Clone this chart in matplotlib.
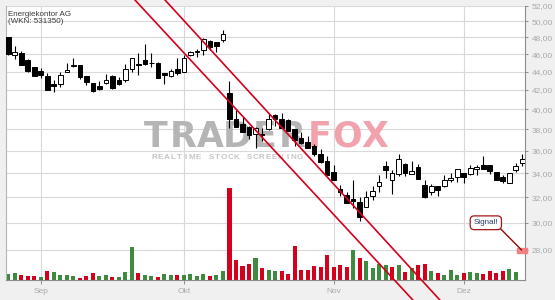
import numpy as np
import matplotlib
matplotlib.use("Agg")
import matplotlib.pyplot as plt
from matplotlib.transforms import blended_transform_factory

# daily candles (late Aug .. mid Dec)
opens = [48.0, 45.9, 46.15, 45.3, 44.5, 44.1, 43.5, 42.6, 42.6, 44.0,
         44.65, 44.7, 43.5, 42.75, 42.4, 42.8, 43.55, 43.05, 43.05, 44.3,
         44.85, 45.3, 45.0, 45.0, 43.85, 43.55, 44.3, 43.95, 45.9, 46.25,
         46.5, 47.5, 47.4, 47.7, 41.7, 39.0, 38.55, 38.25, 37.55, 37.55,
         38.0, 39.45, 39.05, 38.9, 38.0, 37.2, 36.8, 36.4, 35.7, 35.05,
         34.15, 32.65, 32.15, 31.85, 31.65, 31.25, 32.1, 32.9, 34.6, 33.4,
         33.95, 34.8, 33.97, 34.55, 33.05, 32.45, 32.9, 32.95, 33.4, 33.65,
         34.0, 33.97, 34.36, 34.72, 34.72, 34.1, 33.65, 33.2, 34.27, 34.87]
highs = [48.05, 47.0, 46.35, 45.4, 44.55, 44.4, 43.85, 43.05, 44.0, 45.0,
         45.6, 44.75, 43.5, 42.8, 42.95, 43.7, 43.6, 43.4, 44.9, 45.55,
         46.1, 47.2, 46.1, 45.05, 43.9, 44.3, 45.5, 45.95, 46.35, 46.6,
         47.9, 47.7, 47.45, 48.95, 42.95, 39.95, 39.25, 38.3, 38.2, 38.1,
         39.5, 39.55, 39.65, 39.0, 38.05, 37.75, 37.35, 36.6, 36.2, 35.55,
         34.7, 33.0, 32.45, 33.4, 32.0, 32.5, 32.95, 33.85, 35.05, 34.3,
         35.75, 34.9, 35.05, 34.8, 33.4, 33.1, 32.9, 33.9, 34.0, 34.35,
         34.0, 34.7, 34.7, 35.5, 34.75, 34.15, 33.9, 34.0, 34.9, 35.7]
lows = [45.95, 45.4, 44.8, 44.0, 43.5, 43.35, 41.95, 41.75, 42.3, 43.95,
        44.5, 43.2, 42.5, 41.75, 41.95, 42.6, 42.15, 42.5, 42.85, 43.95,
        43.6, 44.75, 44.5, 43.3, 42.6, 43.4, 43.6, 43.95, 45.75, 45.7,
        45.95, 46.45, 46.3, 47.4, 38.1, 38.2, 37.75, 37.1, 36.3, 36.9,
        37.95, 38.3, 38.1, 37.85, 36.4, 36.65, 36.3, 35.55, 34.95, 33.85,
        33.4, 32.1, 31.55, 31.15, 30.1, 31.2, 31.75, 32.4, 33.6, 32.3,
        33.75, 33.75, 33.95, 33.5, 31.95, 32.15, 32.1, 32.85, 33.25, 33.3,
        33.2, 33.85, 33.9, 34.4, 33.97, 33.4, 33.15, 33.15, 34.1, 34.65]
closes = [46.0, 46.3, 44.8, 44.05, 43.5, 43.65, 42.0, 42.4, 43.65, 44.2,
          44.75, 43.4, 42.9, 41.9, 42.15, 43.05, 42.2, 42.6, 44.3, 45.5,
          44.8, 44.85, 44.95, 43.35, 43.6, 44.1, 43.85, 45.5, 46.3, 46.35,
          47.8, 46.8, 47.0, 48.4, 39.0, 38.25, 37.8, 37.5, 38.1, 37.45,
          39.0, 39.05, 38.15, 37.85, 37.0, 36.7, 36.3, 35.75, 35.0, 33.9,
          33.45, 32.4, 31.55, 31.7, 30.45, 32.05, 32.55, 33.25, 34.3, 34.05,
          35.3, 34.05, 34.18, 33.5, 32.05, 32.9, 32.6, 33.4, 33.6, 34.35,
          33.7, 34.45, 34.54, 34.42, 34.2, 33.45, 33.35, 34.0, 34.66, 35.25]
# volume in relative units (last day has no bar yet)
volumes = [6, 7, 5, 4, 4, 3, 9, 8, 5, 5,
           4, 2, 4, 7, 4, 5, 3, 3, 8, 33,
           7, 5, 4, 3, 6, 5, 5, 5, 6, 4,
           6, 4, 5, 9, 92, 20, 14, 16, 22, 12,
           10, 9, 9, 6, 34, 10, 10, 14, 13, 25,
           13, 15, 13, 30, 22, 19, 12, 16, 15, 13,
           15, 8, 12, 15, 16, 9, 7, 5, 10, 5,
           7, 8, 7, 6, 9, 7, 9, 11, 8, 0]
vol_ceiling = 275

month_labels = ["Sep", "Okt", "Nov", "Dez"]
month_days = [5, 27, 50, 70]
price_ticks = [28, 30, 32, 34, 36, 38, 40, 42, 44, 46, 48, 50, 52]

# trend channel: (day index, price) at both ends
channel_lower = [(19.47, 52.76), (62.2, 24.66)]
channel_upper = [(24.09, 52.76), (66.35, 24.66)]

signal_day = 78.9
signal_price = 28.0

RED = "#d5001c"
GREEN = "#3e8a3e"
GRID = "#d9d9d9"
LABEL = "#a9a9a9"
plt.rcParams["font.family"] = ["Liberation Sans", "DejaVu Sans"]

W, H = 555, 300
fig = plt.figure(figsize=(W / 100, H / 100), dpi=100, facecolor="#f0f0f0")
ax = fig.add_axes([5.7 / W, 20 / H, (525.5 - 5.7) / W, 274.5 / H])
ax.set_facecolor("white")

days = np.arange(len(closes))
o = np.array(opens)
c = np.array(closes)

ax.set_yscale("log")
ax.set_ylim(25.95, 52.03)
ax.set_xlim(-0.4, 79.5)

# volume bars at the bottom, height as fraction of the axes
up = [True] + [c[i] >= c[i - 1] for i in range(1, len(c))]
vol_colors = [GREEN if u else RED for u in up]
trans = blended_transform_factory(ax.transData, ax.transAxes)
ax.bar(days, np.array(volumes) / vol_ceiling, width=0.62, bottom=0,
       color=vol_colors, transform=trans, zorder=2)

# candles
ax.vlines(days, lows, highs, color="black", linewidth=0.8, zorder=3)
body_lo = np.minimum(o, c)
body_h = np.maximum(np.abs(c - o), 0.06)
face = ["white" if cc > oo else "black" for oo, cc in zip(o, c)]
ax.bar(days, body_h, bottom=body_lo, width=0.72, color=face,
       edgecolor="black", linewidth=0.7, zorder=3.5)

# trend channel
for line in (channel_lower, channel_upper):
    xs, ys = zip(*line)
    ax.plot(xs, ys, color=RED, linewidth=1.2, zorder=5, clip_on=False)

# watermark
for i, ch in enumerate("TRADERFOX"):
    col = "#b5b5b5" if i < 6 else "#f2a2ad"
    ax.text((141.7 + 27.4 * (i + 0.5)) / W, 1 - 146.7 / H, ch,
            transform=fig.transFigure, ha="center", va="baseline",
            fontsize=25, fontweight="heavy", family="DejaVu Sans",
            color=col, zorder=1.5)
for i, ch in enumerate("REALTIME STOCK SCREENING"):
    ax.text((150.7 + 6.35 * (i + 0.5)) / W, 1 - 159.3 / H, ch,
            transform=fig.transFigure, ha="center", va="baseline",
            fontsize=5.8, fontweight="bold", color="#c6c6c6", zorder=1.5)

# axes styling
ax.yaxis.tick_right()
ax.yaxis.set_major_locator(matplotlib.ticker.FixedLocator(price_ticks))
ax.yaxis.set_minor_locator(matplotlib.ticker.NullLocator())
ax.set_yticklabels([f"{v:.2f}".replace(".", ",") for v in price_ticks])
ax.set_xticks(month_days)
ax.set_xticklabels(month_labels)
ax.tick_params(axis="y", length=2.4, width=0.7, color="#8c8c8c",
               labelsize=6, labelcolor=LABEL, pad=2)
ax.tick_params(axis="x", length=3, width=0.7, color="#8c8c8c",
               labelsize=6, labelcolor=LABEL, pad=2.5)
ax.grid(True, color=GRID, linewidth=0.8)
ax.set_axisbelow(True)
ax.spines["top"].set_visible(False)
ax.spines["left"].set_color("#b5b5b5")
ax.spines["right"].set_color("#8c8c8c")
ax.spines["bottom"].set_color("#8c8c8c")
for s in ("left", "right", "bottom"):
    ax.spines[s].set_linewidth(0.8)

# title
fig.text(7.5 / W, 1 - 15.6 / H, "Energiekontor AG", fontsize=5.8,
         color="#3a3a3a", va="baseline")
fig.text(7.5 / W, 1 - 23.3 / H, "(WKN: 531350)", fontsize=5.8,
         color="#3a3a3a", va="baseline")

# signal marker
ax.plot([signal_day], [signal_price], linestyle="none",
        marker=[(-1, -0.5), (1, -0.5), (1, 0.5), (-1, 0.5), (-1, -0.5)],
        markersize=7.2, color="#f47a7a", alpha=0.9, zorder=6, clip_on=False)
ax.annotate("Signal!", xy=(signal_day, signal_price), xytext=(73.4, 30.0),
            ha="center", va="center", fontsize=5.8, color="#2b3a67",
            bbox=dict(boxstyle="round,pad=0.42,rounding_size=0.5",
                      fc="white", ec="#a31515", lw=0.9),
            arrowprops=dict(arrowstyle="-", color="#8b0a0a", lw=1.0,
                            relpos=(1, 0), shrinkA=0, shrinkB=0),
            zorder=7, annotation_clip=False)

fig.savefig("out.png", dpi=100, facecolor=fig.get_facecolor())
